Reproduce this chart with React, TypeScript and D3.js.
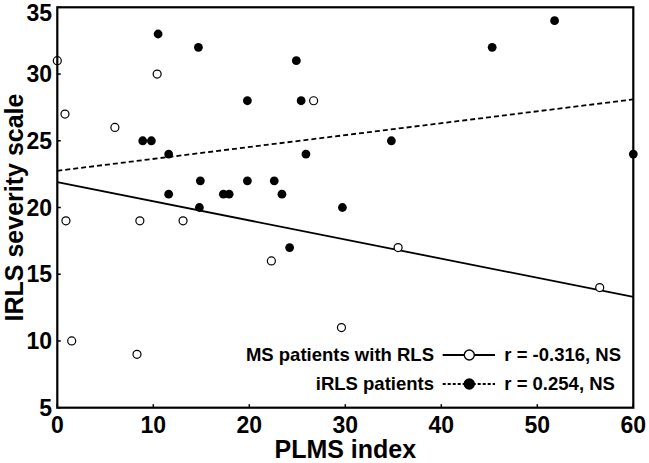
import React from "react";
import * as d3 from "d3";

const msX = [0, 10.4, 0.8, 6, 0.9, 8.6, 13.1, 26.7, 1.5, 8.3, 22.3, 35.5, 29.6, 56.5];
const msY = [31, 30, 27, 26, 19, 19, 19, 28, 10, 9, 16, 17, 11, 14];

const irlsX = [10.5, 14.7, 8.9, 9.8, 11.6, 11.6, 14.9, 14.8, 24.9, 19.8, 25.4, 34.8, 25.9, 19.8, 22.6, 17.3, 17.9, 23.4, 29.7, 51.8, 45.3, 60, 24.2];
const irlsY = [33, 32, 25, 25, 24, 21, 22, 20, 31, 28, 28, 25, 24, 22, 22, 21, 21, 21, 20, 34, 32, 24, 17];

// regression lines: [y at x=0, y at x=60]
const msFit = [21.9, 13.3];
const irlsFit = [22.75, 28.1];

const xTicks = [0, 10, 20, 30, 40, 50, 60];
const yTicks = [5, 10, 15, 20, 25, 30, 35];

const legendLabels = ["MS patients with RLS", "iRLS patients"];
const legendStats = ["r = -0.316, NS", "r = 0.254, NS"];

const W = 649;
const H = 463;
const FONT = "'Liberation Sans', Arial, Helvetica, sans-serif";

export default function App() {
  const x = d3.scaleLinear().domain([0, 60]).range([57.3, 633.3]);
  const y = d3.scaleLinear().domain([5, 35]).range([407.7, 7.3]);
  const line = d3
    .line<[number, number]>()
    .x((d) => x(d[0]))
    .y((d) => y(d[1]));
  const fitDomain = [0, 60];
  const msLine = line(fitDomain.map((v, i) => [v, msFit[i]] as [number, number]));
  const irlsLine = line(fitDomain.map((v, i) => [v, irlsFit[i]] as [number, number]));

  const x0 = x(0), x1 = x(60), yb = y(5), yt = y(35);

  const legX1 = 442.7, legX2 = 495, legC = 469.3;
  const legRowY = [355, 384];

  return (
    <svg
      width={W}
      height={H}
      style={{ position: "absolute", left: 0, top: 0, background: "#fff" }}
      fontFamily={FONT}
      fontWeight="bold"
    >
      <rect x={0} y={0} width={W} height={H} fill="#fff" />

      {/* regression lines */}
      <path d={msLine || ""} stroke="#000" strokeWidth={1.8} fill="none" />
      <path d={irlsLine || ""} stroke="#000" strokeWidth={1.8} strokeDasharray="5,3" fill="none" />

      {/* points */}
      {msX.map((v, i) => (
        <circle key={"m" + i} cx={x(v)} cy={y(msY[i])} r={4} fill="#fff" stroke="#000" strokeWidth={1.2} />
      ))}
      {irlsX.map((v, i) => (
        <circle key={"r" + i} cx={x(v)} cy={y(irlsY[i])} r={4.4} fill="#000" />
      ))}

      {/* frame */}
      <rect x={x0} y={yt} width={x1 - x0} height={yb - yt} fill="none" stroke="#000" strokeWidth={2.2} />

      {/* ticks */}
      {xTicks.map((t) => (
        <g key={"xt" + t}>
          <line x1={x(t)} x2={x(t)} y1={yb} y2={yb - 3.5} stroke="#000" strokeWidth={1.5} />
          <text x={x(t)} y={432.5} textAnchor="middle" fontSize={23}>
            {t}
          </text>
        </g>
      ))}
      {yTicks.map((t) => (
        <g key={"yt" + t}>
          <line x1={x0} x2={x0 + 3.5} y1={y(t)} y2={y(t)} stroke="#000" strokeWidth={1.5} />
          <text x={52} y={Math.max(y(t) + 8, 20.5)} textAnchor="end" fontSize={23}>
            {t}
          </text>
        </g>
      ))}

      {/* axis titles */}
      <text x={(x0 + x1) / 2} y={458} textAnchor="middle" fontSize={25}>
        PLMS index
      </text>
      <text
        transform={`translate(23,${(yt + yb) / 2}) rotate(-90)`}
        textAnchor="middle"
        fontSize={25}
      >
        IRLS severity scale
      </text>

      {/* legend */}
      {legendLabels.map((lab, i) => (
        <g key={"lg" + i}>
          <text x={434} y={legRowY[i] + 6} textAnchor="end" fontSize={18.5}>
            {lab}
          </text>
          <line
            x1={legX1}
            x2={legX2}
            y1={legRowY[i]}
            y2={legRowY[i]}
            stroke="#000"
            strokeWidth={1.8}
            strokeDasharray={i === 0 ? undefined : "3,2"}
          />
          <circle
            cx={legC}
            cy={legRowY[i]}
            r={5}
            fill={i === 0 ? "#fff" : "#000"}
            stroke="#000"
            strokeWidth={1.4}
          />
          <text x={504.3} y={legRowY[i] + 6} fontSize={18.5}>
            {legendStats[i]}
          </text>
        </g>
      ))}
    </svg>
  );
}
